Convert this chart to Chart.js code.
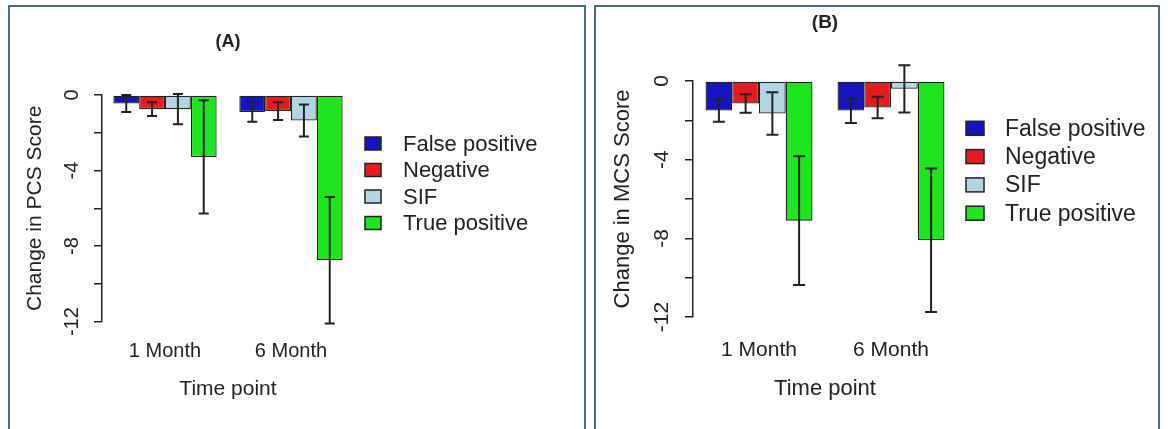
<!DOCTYPE html>
<html>
<head>
<meta charset="utf-8">
<script src="https://cdn.jsdelivr.net/npm/chart.js@4.4.1/dist/chart.umd.min.js"></script>
<style>
  body { margin: 0; background: #fff; width: 1168px; height: 429px; overflow: hidden; position: relative; }
  .frame { position: absolute; top: 5px; height: 440px; border: 2px solid #4a6894; box-sizing: border-box; }
  .wrap { position: absolute; top: 5px; }
</style>
</head>
<body>
<div class="frame" style="left:8px;width:578px"></div>
<div class="frame" style="left:594px;width:566px"></div>
<div class="wrap" style="left:8px"><canvas id="chartA" width="578" height="424"></canvas></div>
<div class="wrap" style="left:594px"><canvas id="chartB" width="566" height="424"></canvas></div>
<script>
// categories and groups
const timePoints = ['1 Month', '6 Month'];
const groups = ['False positive', 'Negative', 'SIF', 'True positive'];
const groupColors = ['#1414c0', '#e41c1c', '#b2d5e3', '#1ee61e'];
const yTicks = [0, -2, -4, -6, -8, -10, -12];

// (A) change in PCS score, mean and standard error per group
const pcsFalsePos = [-0.45, -0.9];
const pcsNegative = [-0.75, -0.85];
const pcsSIF = [-0.75, -1.35];
const pcsTruePos = [-3.28, -8.75];
const pcsFalsePosSE = [0.45, 0.52];
const pcsNegativeSE = [0.36, 0.47];
const pcsSIFSE = [0.8, 0.85];
const pcsTruePosSE = [3.0, 3.35];

// (B) change in MCS score
const mcsFalsePos = [-1.5, -1.5];
const mcsNegative = [-1.15, -1.35];
const mcsSIF = [-1.65, -0.4];
const mcsTruePos = [-7.1, -8.1];
const mcsFalsePosSE = [0.57, 0.63];
const mcsNegativeSE = [0.47, 0.55];
const mcsSIFSE = [1.08, 1.2];
const mcsTruePosSE = [3.27, 3.65];

const FONT = '"Liberation Sans", Arial, sans-serif';
const INK = '#222';

// error bars drawn from the dataset's se values through the y scale
const errorBars = {
  id: 'errorBars',
  afterDatasetsDraw(chart, args, o) {
    const ctx = chart.ctx, y = chart.scales.y;
    ctx.save();
    ctx.strokeStyle = INK;
    ctx.lineWidth = o.width;
    chart.data.datasets.forEach((ds, di) => {
      chart.getDatasetMeta(di).data.forEach((bar, i) => {
        const hi = y.getPixelForValue(ds.data[i] + ds.se[i]);
        const lo = y.getPixelForValue(ds.data[i] - ds.se[i]);
        ctx.beginPath();
        ctx.moveTo(bar.x, hi); ctx.lineTo(bar.x, lo);
        ctx.moveTo(bar.x - o.cap, hi); ctx.lineTo(bar.x + o.cap, hi);
        ctx.moveTo(bar.x - o.cap, lo); ctx.lineTo(bar.x + o.cap, lo);
        ctx.stroke();
      });
    });
    ctx.restore();
  }
};

// legend to the right of the plot, like R's legend()
const sideLegend = {
  id: 'sideLegend',
  afterDraw(chart, args, o) {
    const ctx = chart.ctx, a = chart.chartArea;
    ctx.save();
    ctx.font = o.size + 'px ' + FONT;
    ctx.textBaseline = 'middle';
    chart.data.datasets.forEach((ds, i) => {
      const cy = a.top + o.top + i * o.gap;
      const bx = a.right + o.left;
      ctx.fillStyle = ds.backgroundColor;
      ctx.fillRect(bx, cy - o.boxH / 2, o.boxW, o.boxH);
      ctx.strokeStyle = INK;
      ctx.lineWidth = 1.5;
      ctx.strokeRect(bx, cy - o.boxH / 2, o.boxW, o.boxH);
      ctx.fillStyle = INK;
      ctx.fillText(ds.label, bx + o.text, cy + 1);
    });
    ctx.restore();
  }
};

function makePanel(id, title, yTitle, means, ses, s) {
  const datasets = groups.map((g, i) => ({
    label: g,
    data: means[i],
    se: ses[i],
    backgroundColor: groupColors[i],
    borderColor: INK,
    borderWidth: 1.3,
    borderSkipped: false,
    barPercentage: 1.0,
    categoryPercentage: s.groupWidth
  }));
  return new Chart(document.getElementById(id), {
    type: 'bar',
    data: { labels: timePoints, datasets: datasets },
    options: {
      responsive: false,
      animation: false,
      layout: { padding: s.pad },
      plugins: {
        legend: { display: false },
        tooltip: { enabled: false },
        title: {
          display: true, text: title, color: INK, fullSize: false,
          font: { family: FONT, size: s.titleSize, weight: 'bold' },
          padding: s.titlePad
        },
        errorBars: { width: 2, cap: s.cap },
        sideLegend: s.legend
      },
      scales: {
        x: {
          grid: { display: false, drawTicks: false },
          border: { display: false },
          ticks: { color: INK, padding: s.xTickPad, font: { family: FONT, size: s.tickSize } },
          title: {
            display: true, text: 'Time point', color: INK,
            font: { family: FONT, size: s.axisTitleSize, lineHeight: 0.6 },
            padding: { top: s.xTitleTop, bottom: 0 }
          }
        },
        y: {
          min: -12, max: 0,
          afterBuildTicks: axis => { axis.ticks = yTicks.map(v => ({ value: v })); },
          grid: { drawOnChartArea: false, drawTicks: true, tickLength: 8, color: INK, lineWidth: 1.5 },
          border: { display: true, color: INK, width: 1.5 },
          ticks: {
            color: INK, padding: s.yTickPad, minRotation: 90, maxRotation: 90, crossAlign: 'center',
            font: { family: FONT, size: s.tickSize },
            callback: v => (v % 4 === 0 ? String(v) : '')
          },
          title: {
            display: true, text: yTitle, color: INK,
            font: { family: FONT, size: s.axisTitleSize },
            padding: s.yTitlePad
          }
        }
      }
    },
    plugins: [errorBars, sideLegend]
  });
}

makePanel('chartA', '(A)', 'Change in PCS Score',
  [pcsFalsePos, pcsNegative, pcsSIF, pcsTruePos],
  [pcsFalsePosSE, pcsNegativeSE, pcsSIFSE, pcsTruePosSE],
  {
    pad: { left: 10, right: 232, top: 10, bottom: 33.8 },
    titleSize: 18, titlePad: { top: 16.7, bottom: 41.7 },
    tickSize: 20, axisTitleSize: 21,
    xTickPad: 18, xTitleTop: 1,
    yTickPad: 7, yTitlePad: { top: 4.4, bottom: 8.4 },
    cap: 5, groupWidth: 0.82,
    legend: { size: 22, top: 48.5, gap: 26.5, left: 11, boxW: 16, boxH: 13, text: 38 }
  });

makePanel('chartB', '(B)', 'Change in MCS Score',
  [mcsFalsePos, mcsNegative, mcsSIF, mcsTruePos],
  [mcsFalsePosSE, mcsNegativeSE, mcsSIFSE, mcsTruePosSE],
  {
    pad: { left: 10, right: 203, top: 4, bottom: 33.8 },
    titleSize: 19, titlePad: { top: 2.1, bottom: 47.1 },
    tickSize: 21, axisTitleSize: 22,
    xTickPad: 20.4, xTitleTop: -1,
    yTickPad: 7.3, yTitlePad: { top: 5.3, bottom: 9.5 },
    cap: 6, groupWidth: 0.81,
    legend: { size: 23, top: 47.3, gap: 28.3, left: 9, boxW: 18, boxH: 14, text: 39 }
  });
</script>
</body>
</html>
